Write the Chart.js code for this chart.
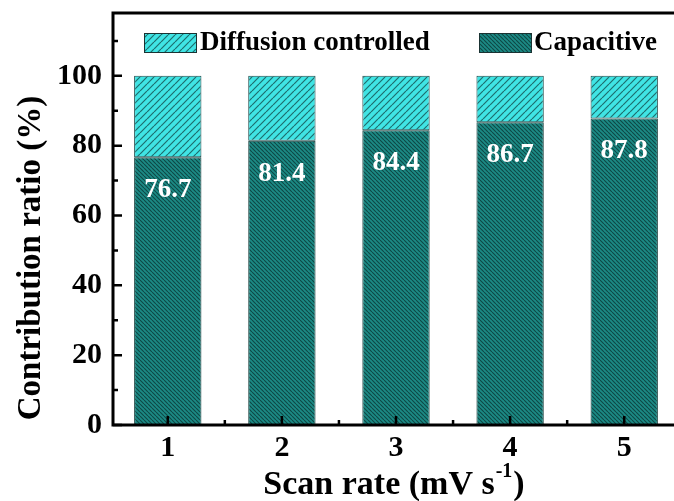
<!DOCTYPE html>
<html>
<head>
<meta charset="utf-8">
<script src="https://cdn.jsdelivr.net/npm/chart.js@4.4.0/dist/chart.umd.min.js"></script>
<style>
  html, body { margin: 0; padding: 0; background: #ffffff; overflow: hidden; }
  #wrap { position: relative; width: 682px; height: 501px; }
</style>
</head>
<body>
<div id="wrap"><canvas id="chart"></canvas></div>
<script>
// Scan rates (mV s^-1) and the capacitive share at each rate (%)
const scanRates = [1, 2, 3, 4, 5];
const capacitive = [76.7, 81.4, 84.4, 86.7, 87.8];
const diffusion = [23.3, 18.6, 15.6, 13.3, 12.2];
const yTickValues = [0, 20, 40, 60, 80, 100];
const yMinorValues = [10, 30, 50, 70, 90, 110];
const xMinorValues = [1.5, 2.5, 3.5, 4.5];
const seriesNames = ['Diffusion controlled', 'Capacitive'];
const yTitle = 'Contribution ratio (%)';

const FONT = '"Liberation Serif", "Times New Roman", serif';

// Hatched fills
function hatch(bg, line, size, dir, lw) {
  const c = document.createElement('canvas');
  c.width = size; c.height = size;
  const g = c.getContext('2d');
  g.fillStyle = bg;
  g.fillRect(0, 0, size, size);
  g.strokeStyle = line;
  g.lineWidth = lw;
  g.beginPath();
  if (dir === '/') {
    for (let k = -1; k <= 1; k++) {
      g.moveTo(k * size, size);
      g.lineTo(k * size + size, 0);
    }
  } else {
    for (let k = -1; k <= 1; k++) {
      g.moveTo(k * size, 0);
      g.lineTo(k * size + size, size);
    }
  }
  g.stroke();
  return g.createPattern(c, 'repeat');
}

const ctx0 = document.getElementById('chart').getContext('2d');
const capFill = hatch('#1c8a85', '#0e4846', 4, '\\', 1.1);
const difFill = hatch('#40e4e4', '#1d6e6e', 7, '/', 1.2);

const capPoints = scanRates.map((x, i) => ({ x: x, y: capacitive[i] }));
const difPoints = scanRates.map((x, i) => ({ x: x, y: diffusion[i] }));

// Frame, inward tick marks, value labels, legend and axis titles
const decor = {
  id: 'decor',
  afterDatasetsDraw(chart) {
    const { ctx, chartArea: a, scales } = chart;
    const xs = scales.x, ys = scales.y;
    ctx.save();

    // value labels inside the capacitive bars
    const meta = chart.getDatasetMeta(0);
    ctx.fillStyle = '#ffffff';
    ctx.font = 'bold 27px ' + FONT;
    ctx.textAlign = 'center';
    ctx.textBaseline = 'middle';
    meta.data.forEach((bar, i) => {
      ctx.fillText(capacitive[i].toFixed(1), bar.x, bar.y + 33);
    });

    // axes frame
    ctx.strokeStyle = '#000';
    ctx.lineWidth = 3;
    ctx.beginPath();
    ctx.moveTo(a.right + 5, a.top);
    ctx.lineTo(a.left, a.top);
    ctx.lineTo(a.left, a.bottom);
    ctx.lineTo(a.right + 5, a.bottom);
    ctx.stroke();

    // y ticks (pointing inwards)
    ctx.lineWidth = 2.5;
    ctx.beginPath();
    yTickValues.forEach(v => {
      const p = ys.getPixelForValue(v);
      ctx.moveTo(a.left, p); ctx.lineTo(a.left + 9, p);
    });
    yMinorValues.forEach(v => {
      const p = ys.getPixelForValue(v);
      ctx.moveTo(a.left, p); ctx.lineTo(a.left + 5, p);
    });
    // x ticks (pointing upwards)
    scanRates.forEach(v => {
      const p = xs.getPixelForValue(v);
      ctx.moveTo(p, a.bottom); ctx.lineTo(p, a.bottom - 9);
    });
    xMinorValues.forEach(v => {
      const p = xs.getPixelForValue(v);
      ctx.moveTo(p, a.bottom); ctx.lineTo(p, a.bottom - 5);
    });
    ctx.stroke();

    // legend
    const ds = chart.data.datasets;
    const items = [
      { ds: ds[1], boxX: 144, textX: 200 },
      { ds: ds[0], boxX: 479, textX: 534 }
    ];
    ctx.font = 'bold 27px ' + FONT;
    ctx.textAlign = 'left';
    ctx.textBaseline = 'middle';
    items.forEach(it => {
      ctx.fillStyle = it.ds.backgroundColor;
      ctx.fillRect(it.boxX, 33, 52, 19);
      ctx.strokeStyle = '#1a3333';
      ctx.lineWidth = 1;
      ctx.strokeRect(it.boxX + 0.5, 33.5, 52, 19);
      ctx.fillStyle = '#000';
      ctx.fillText(it.ds.label, it.textX, 43);
    });

    // y-axis title
    ctx.save();
    ctx.translate(31, 258);
    ctx.rotate(-Math.PI / 2);
    ctx.font = 'bold 33px ' + FONT;
    ctx.textAlign = 'center';
    ctx.textBaseline = 'middle';
    ctx.fillStyle = '#000';
    ctx.fillText(yTitle, 0, 0);
    ctx.restore();

    // x-axis title with superscript
    const y = 494;
    const t1 = 'Scan rate (mV s';
    const sup = '-1';
    const t3 = ')';
    ctx.textAlign = 'left';
    ctx.textBaseline = 'alphabetic';
    ctx.font = 'bold 34px ' + FONT;
    const w1 = ctx.measureText(t1).width;
    ctx.font = 'bold 20px ' + FONT;
    const w2 = ctx.measureText(sup).width;
    ctx.font = 'bold 34px ' + FONT;
    const w3 = ctx.measureText(t3).width;
    const cx = 394;
    let x0 = cx - (w1 + w2 + w3 + 2) / 2;
    ctx.fillStyle = '#000';
    ctx.fillText(t1, x0, y);
    ctx.font = 'bold 20px ' + FONT;
    ctx.fillText(sup, x0 + w1 + 1, y - 17);
    ctx.font = 'bold 34px ' + FONT;
    ctx.fillText(t3, x0 + w1 + w2 + 2, y);

    ctx.restore();
  }
};

new Chart(ctx0, {
  type: 'bar',
  data: {
    datasets: [
      {
        label: seriesNames[1],
        data: capPoints,
        backgroundColor: capFill,
        borderColor: '#123c3a',
        borderWidth: 1,
        borderSkipped: false,
        barPercentage: 0.59,
        categoryPercentage: 1
      },
      {
        label: seriesNames[0],
        data: difPoints,
        backgroundColor: difFill,
        borderColor: '#1a4a4a',
        borderWidth: 1,
        borderSkipped: false,
        barPercentage: 0.59,
        categoryPercentage: 1
      }
    ]
  },
  options: {
    responsive: true,
    maintainAspectRatio: false,
    animation: false,
    layout: { padding: { top: 13, right: 3, left: 0, bottom: 0 } },
    plugins: { legend: { display: false }, tooltip: { enabled: false } },
    scales: {
      x: {
        type: 'linear',
        stacked: true,
        offset: false,
        min: 0.52,
        max: 5.48,
        grid: { display: false, drawTicks: false, offset: false },
        border: { display: false },
        afterBuildTicks: s => { s.ticks = scanRates.map(v => ({ value: v })); },
        afterFit: s => { s.height = 76; s.paddingLeft = 0; s.paddingRight = 0; },
        ticks: {
          padding: 5,
          color: '#000',
          font: { family: FONT, size: 30, weight: 'bold' },
          callback: v => String(v)
        }
      },
      y: {
        stacked: true,
        min: 0,
        max: 118,
        grid: { display: false, drawTicks: false },
        border: { display: false },
        afterBuildTicks: s => { s.ticks = yTickValues.map(v => ({ value: v })); },
        afterFit: s => { s.width = 113; s.paddingTop = 0; s.paddingBottom = 0; },
        ticks: {
          padding: 11,
          color: '#000',
          font: { family: FONT, size: 30, weight: 'bold' }
        }
      }
    }
  },
  plugins: [decor]
});
</script>
</body>
</html>
